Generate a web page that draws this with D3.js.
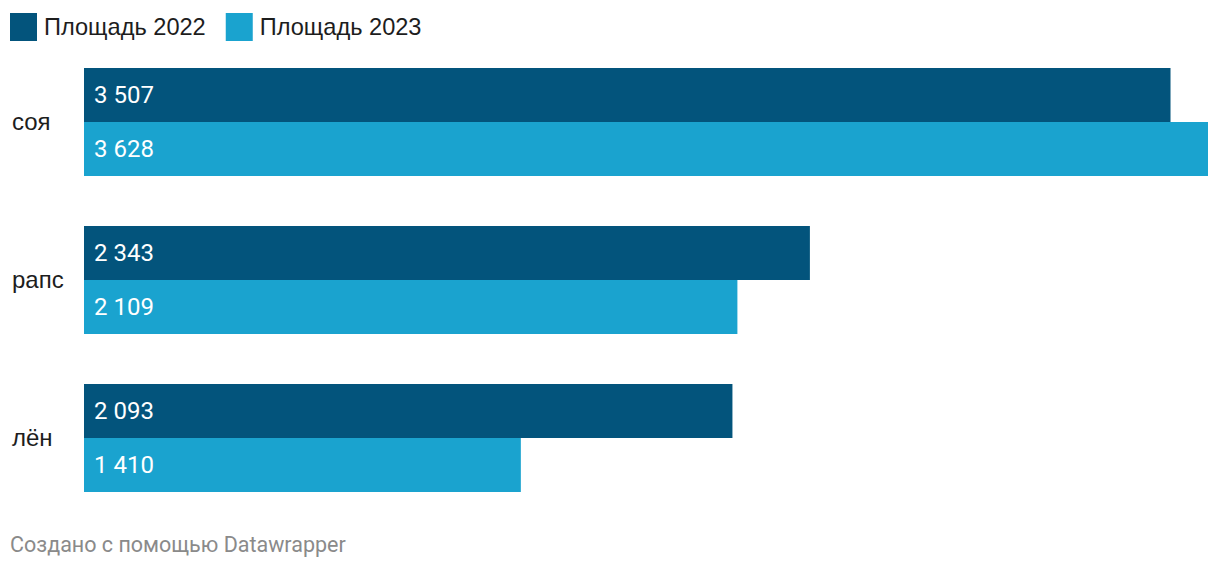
<!DOCTYPE html>
<html lang="ru">
<head>
<meta charset="UTF-8">
<script src="https://d3js.org/d3.v7.min.js"></script>
<style>
  body { margin: 0; background: #fff; }
  svg { display: block; }
</style>
</head>
<body>
<div id="chart"></div>
<script>
  // data
  const crops = ["соя", "рапс", "лён"]
  const series = ["Площадь 2022", "Площадь 2023"]
  const area2022 = [3507, 2343, 2093]
  const area2023 = [3628, 2109, 1410]
  const colors = ["#03547c", "#1aa3cf"]

  const width = 1220, height = 570
  const svg = d3.select("#chart").append("svg")
      .attr("width", width)
      .attr("height", height)

  const values = [area2022, area2023]
  const fmt = v => d3.format(",")(v).replace(/,/g, " ")

  // legend
  const legend = svg.append("g")
  let lx = 10
  series.forEach((s, i) => {
      legend.append("rect")
          .attr("x", lx).attr("y", 13)
          .attr("width", 27).attr("height", 28)
          .attr("fill", colors[i])
      const t = legend.append("text")
          .attr("x", lx + 34).attr("y", 35)
          .attr("font-family", "Liberation Sans, Arial, sans-serif")
          .attr("font-size", 23.6)
          .attr("fill", "#1d1d1d")
          .text(s)
      lx += 34 + t.node().getComputedTextLength() + 20
  })

  // scales
  const x = d3.scaleLinear()
      .domain([0, d3.max(area2023.concat(area2022))])
      .range([84, 1208])

  // groups 108 tall with 50 gap
  const y = d3.scaleBand()
      .domain(crops)
      .range([68, 68 + 3 * 108 + 2 * 50])
      .paddingInner(50 / 158)
      .paddingOuter(0)

  const sub = d3.scaleBand()
      .domain(series)
      .range([0, y.bandwidth()])

  const groups = svg.selectAll("g.crop")
      .data(crops)
      .join("g")
      .attr("class", "crop")
      .attr("transform", d => `translate(0,${y(d)})`)

  groups.append("text")
      .attr("x", 12)
      .attr("y", y.bandwidth() / 2 + 8)
      .attr("font-family", "Liberation Sans, Arial, sans-serif")
      .attr("font-size", 24)
      .attr("fill", "#1d1d1d")
      .text(d => d)

  groups.each(function(c, ci) {
      const g = d3.select(this)
      series.forEach((s, si) => {
          const v = values[si][ci]
          g.append("rect")
              .attr("x", x(0))
              .attr("y", sub(s))
              .attr("width", x(v) - x(0))
              .attr("height", sub.bandwidth())
              .attr("fill", colors[si])
          g.append("text")
              .attr("x", x(0) + 10)
              .attr("y", sub(s) + sub.bandwidth() / 2 + 7.5)
              .attr("font-family", "Roboto, sans-serif")
              .attr("font-size", 24)
              .attr("fill", "#fff")
              .text(fmt(v))
      })
  })

  // footer
  svg.append("text")
      .attr("x", 10)
      .attr("y", 552)
      .attr("font-family", "Roboto, sans-serif")
      .attr("font-size", 21.5)
      .attr("fill", "#8a8a8a")
      .text("Создано с помощью Datawrapper")
</script>
</body>
</html>
